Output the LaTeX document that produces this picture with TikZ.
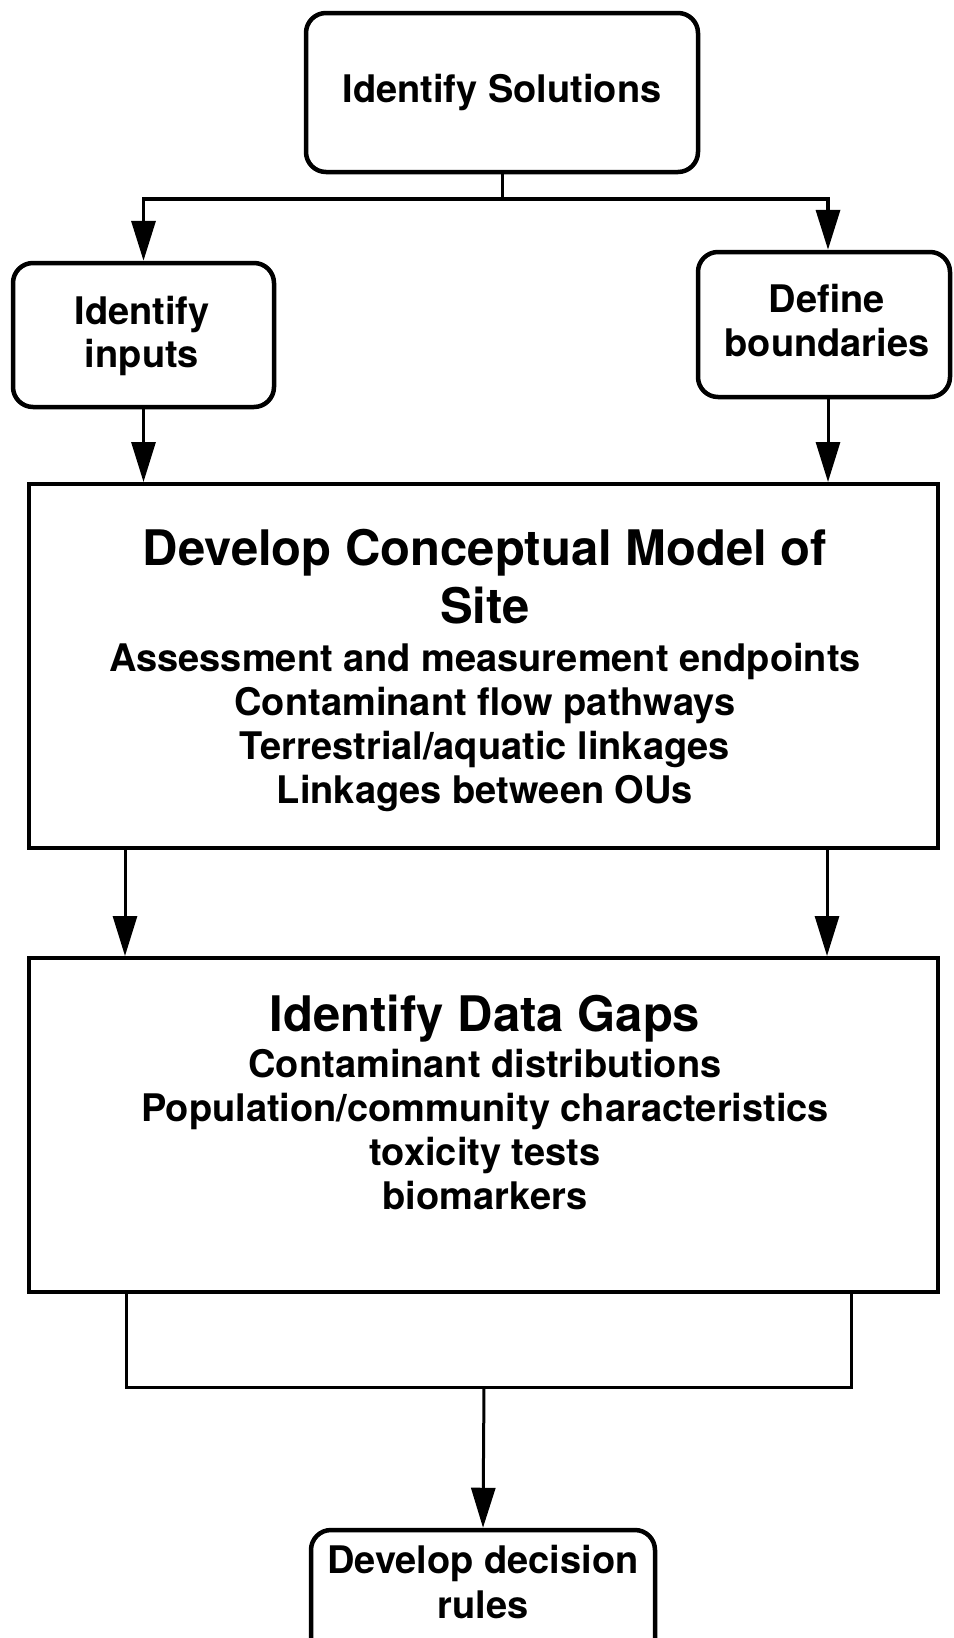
\documentclass[tikz,border=0pt]{standalone}
\usepackage{fontspec}
\setmainfont{TeX Gyre Heros}
\usetikzlibrary{arrows.meta}
\begin{document}
\begin{tikzpicture}[x=1pt,y=-1pt,
  rbox/.style={draw, line width=4.5pt, rounded corners=20pt, inner sep=0pt},
  sbox/.style={draw, line width=4pt, inner sep=0pt},
  small/.style={font=\fontsize{38}{44}\selectfont\bfseries, inner sep=0pt, anchor=base},
  big/.style={font=\fontsize{49}{55}\selectfont\bfseries, inner sep=0pt, anchor=base},
  conn/.style={line width=3pt},
  arr/.style={line width=3pt, -{Triangle[length=40pt,width=24pt]}},
]
\useasboundingbox (0,0) rectangle (953,1638);
\clip (0,0) rectangle (953,1638);

% boxes
\node[rbox, minimum width=392pt, minimum height=159pt] (sol) at (502,92.5) {};
\node[rbox, minimum width=261pt, minimum height=144pt] (inp) at (143.5,335) {};
\node[rbox, minimum width=252pt, minimum height=145pt] (bnd) at (824,324.5) {};
\node[sbox, minimum width=909pt, minimum height=364pt] (m1) at (483.5,666) {};
\node[sbox, minimum width=909pt, minimum height=334pt] (m2) at (483.5,1125) {};
\node[rbox, minimum width=344pt, minimum height=135pt] (rul) at (483,1597.5) {};

% texts
\node[small] (t0) at (502,102) {Identify Solutions};
\node[small] (t1a) at (142,324) {Identify};
\node[small] (t1b) at (142,367) {inputs};
\node[small] (t2a) at (827,312) {Define};
\node[small] (t2b) at (827,356) {boundaries};
\node[big] (t3a) at (485,565) {Develop Conceptual Model of};
\node[big] (t3b) at (485,623) {Site};
\node[small] (t3c) at (485,671) {Assessment and measurement endpoints};
\node[small] (t3d) at (485,715) {Contaminant flow pathways};
\node[small] (t3e) at (485,759) {Terrestrial/aquatic linkages};
\node[small] (t3f) at (485,803) {Linkages between OUs};
\node[big] (t4a) at (485,1031) {Identify Data Gaps};
\node[small] (t4b) at (485,1077) {Contaminant distributions};
\node[small] (t4c) at (485,1121) {Population/community characteristics};
\node[small] (t4d) at (485,1165) {toxicity tests};
\node[small] (t4e) at (485,1209) {biomarkers};
\node[small] (t5a) at (483,1573) {Develop decision};
\node[small] (t5b) at (483,1618) {rules};

% connectors
\coordinate (j1) at (502,199);
\draw[conn] (sol.south) -- (j1);
\draw[arr, line width=3.5pt] (j1) -| (inp.north);
\draw[arr, line width=3.5pt] (j1) -| ([xshift=4pt]bnd.north);
\draw[arr] (inp.south) -- (inp.south |- m1.north);
\draw[arr] ([xshift=4pt]bnd.south) -- ([xshift=4pt]bnd.south |- m1.north);
\draw[arr] ([xshift=98pt]m1.south west) -- ([xshift=98pt]m2.north west);
\draw[arr] ([xshift=-113pt]m1.south east) -- ([xshift=-113pt]m2.north east);
\coordinate (j2) at (484,1387);
\draw[conn] ([xshift=99pt]m2.south west) |- (j2) -| ([xshift=-89pt]m2.south east);
\draw[arr] (j2) -- (rul.north);
\end{tikzpicture}
\end{document}
